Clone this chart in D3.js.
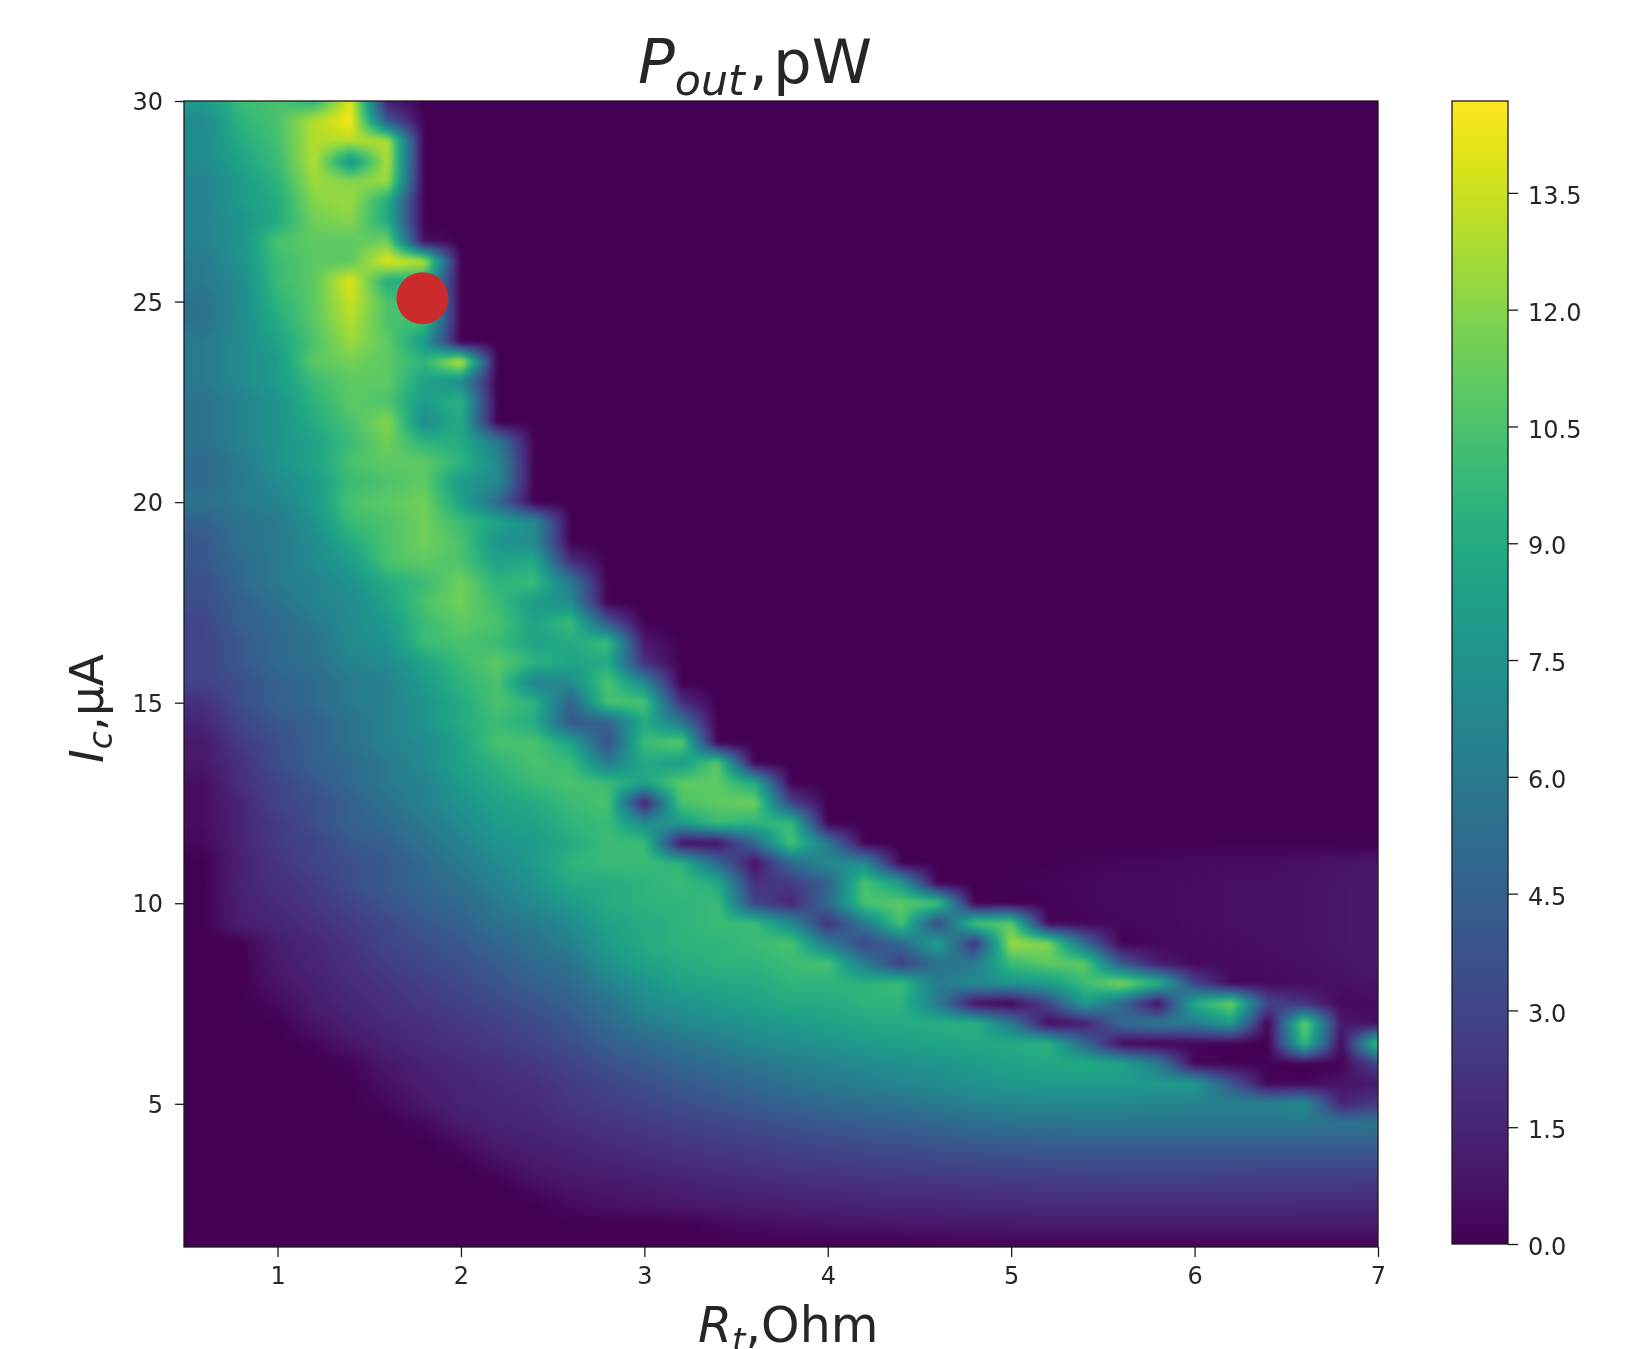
<!DOCTYPE html>
<html>
<head>
<meta charset="utf-8">
<script src="https://cdn.jsdelivr.net/npm/d3@7"></script>
<style>
  html, body { margin: 0; background: #fff; }
  svg { display: block; font-family: "DejaVu Sans", sans-serif; filter: blur(0.6px); }
</style>
</head>
<body>
<div id="chart"></div>
<script>
const rt = [0.6,0.8,1,1.2,1.4,1.6,1.8,2,2.2,2.4,2.6,2.8,3,3.2,3.4,3.6,3.8,4,4.2,4.4,4.6,4.8,5,5.2,5.4,5.6,5.8,6,6.2,6.4,6.6,6.8,7];
const ic = [30,29.5,29,28.5,28,27.5,27,26.5,26,25.5,25,24.5,24,23.5,23,22.5,22,21.5,21,20.5,20,19.5,19,18.5,18,17.5,17,16.5,16,15.5,15,14.5,14,13.5,13,12.5,12,11.5,11,10.5,10,9.5,9,8.5,8,7.5,7,6.5,6,5.5,5,4.5,4,3.5,3,2.5,2,1.5];
// one row per ic value, columns follow rt; columns past the end of a row are 0
const power = [
  [8,10,10.5,9.5,14,1],
  [7,9.5,10.5,13,14.5,4],
  [7,9,10.3,13,13,13],
  [7,8.5,10,13,7.5,13],
  [6.5,8,9.5,12.5,12,12.5],
  [6.5,8,9,12,12.5,9],
  [6.5,7.5,9,11.5,12,9],
  [6.5,7.5,10.5,11,11,11.5,0.5],
  [6,7.5,10,11,11,14,13],
  [6,7,10,11,14,9,9],
  [5.5,7,9.5,11,13.5,10.5,10],
  [5.5,7,9,11,13,10.5,10],
  [6,7,8.5,10.5,12.5,11,8],
  [6,7,8,11,11.5,11,9.5,13.5],
  [6,7,8,10,11,11,8.5,7],
  [5.5,6.5,7.5,9.5,11,10.5,8,9.5],
  [5.5,6.5,7.5,9,10.5,12,7,9],
  [5.5,6.5,7.5,8.5,10,11.5,9.5,9,6],
  [5,6,7.5,8.5,10.5,11,11,9.5,7],
  [5,6,7,8,10,10.5,11,8,7],
  [5.5,6,6.5,8,10.5,11,11.5,8.5,5],
  [4.5,5.5,6,7.5,10,10.5,11.5,10,8.5,7],
  [4,5.5,6,7,9,10.5,11.5,10.5,7.5,7],
  [4,5,6,7,8,10.5,11,10.5,8.5,9,2],
  [3.5,5,6,6.5,7.5,9,10,11.5,9.5,10,6],
  [3.5,4.5,5.5,6.5,7,8.5,10.5,11.5,10,8,7],
  [3,4.5,5,6,7,8,10,11,10.5,8.5,10,4],
  [3,4,5,5.5,7,7.5,10,10.5,10,8.5,9,10,1],
  [3,4,5,5.5,6.5,7,8.5,10,11,9.5,8.5,9,2],
  [3,3.5,4.5,5,6,6.5,8,9.5,10.5,6.5,7,10.5,7],
  [2,3.5,4.5,5,6,6.5,7.5,9,10.5,9.5,4.5,10.5,10.5,2],
  [1.5,3,4,4.5,5.5,6.5,7.5,9,10,9,4,4.5,9,6],
  [1,2.5,3.5,4.5,5.5,6.5,7,8.5,10.5,10.5,8.5,3.5,10,11],
  [1,2,3.5,4.5,5,6,7,8.5,9.5,10.5,10,6,9,8,11],
  [0.5,2,3,4,5,6,6.5,8,9,10,10.5,10,8.5,11,11,9],
  [0.5,1.5,3,3.5,4.5,5.5,6.5,7.5,8.5,9,10,10.5,1,10.5,11,11.5,3],
  [0.5,1.5,2.5,3.5,4.5,5,6,7,8,8.5,9.5,10,7,8,10,9.5,10],
  [0.3,1.5,2.5,3,4,4.5,5.5,6.5,7.5,8,9,10,10,0.5,0.5,5,10.5,6],
  [0,1.3,2.2,3,3.5,4,5,6,7,8,9.5,10,10,9.5,5,0.5,5,7,7,0,0,0,0,0,0.2,0.3,0.3,0.4,0.5,0.5,0.6,0.8,0.9],
  [0,1.5,2,2.5,3.5,4.2,4.8,5.5,6.5,7.5,9,9,9.5,10,9,2,2.5,4.5,10.5,8,0,0,0.1,0.2,0.3,0.4,0.4,0.5,0.6,0.6,0.7,0.9,1],
  [0,1.3,1.8,2.3,3,3.8,4.5,5,6,7,8,9,9.5,9.5,10,3,1.5,5,10.5,11,10.5,0,0,0.1,0.3,0.4,0.4,0.5,0.6,0.6,0.7,0.9,1],
  [0,1.3,1.5,2,2.5,3.2,4,4.5,5.5,6,7,8.5,9,9.5,10,10,7,2,6,10.5,3,10.5,11,0.2,0.2,0.3,0.4,0.5,0.6,0.6,0.7,0.9,1],
  [0,0,1.2,1.6,2.2,3,3.5,4,4.8,5.5,6.5,8,9,9.5,9.5,10,10.5,6,3,5,8.5,2,12.5,12,5,0.1,0.3,0.4,0.5,0.6,0.7,0.9,1],
  [0,0,1,1.5,2,2.6,3.2,3.6,4.2,5,5.5,7.5,8.5,9,9.5,9.5,10,10.5,6,2.5,5.5,6,10,11,11,4,1,0.3,0.4,0.5,0.6,0.8,1],
  [0,0,0.8,1.3,1.8,2.2,2.7,3.2,3.8,4.5,5,6.5,7.5,8.5,8.8,9,9.5,9.5,9.5,10,6,7,7.5,8,10,12,9.5,3,0.3,0.4,0.5,0.6,0.8],
  [0,0,0.4,1.1,1.6,2,2.4,2.8,3.3,3.8,4.5,5.5,7,7.5,8,8.5,9,9,9.5,9.5,6,0.5,0,3,8,5,0.3,9,11.5,3,2,0.3,0.5],
  [0,0,0,0.8,1.3,1.7,2,2.4,2.8,3.3,3.9,5,6,6.8,7.2,7.6,8,8.4,8.8,9,9.2,9.5,6,0.3,1,5,6,6,8,0,11.5,1,0.5],
  [0,0,0,0.2,0.9,1.4,1.8,2.1,2.5,3,3.5,4.3,5,5.6,6.2,6.8,7.2,7.6,8,8.3,8.6,8.8,9,9.5,5,0.3,0,0.2,0,0,10,0.3,10.5],
  [0,0,0,0,0.2,0.9,1.4,1.7,2,2.4,3,3.6,4.2,4.8,5.3,5.8,6.2,6.6,7,7.3,7.6,8,8.5,8.8,9,8.5,6,0.2,0.1,0.1,0,0.1,3],
  [0,0,0,0,0,0.7,1.2,1.5,1.8,2,2.5,3,3.5,4,4.5,5,5.5,6,6.3,6.7,7,7.5,7.8,8,8,8,8,8,4,0.2,0.2,0.8,1],
  [0,0,0,0,0,0.3,1,1.4,1.6,1.8,2.3,2.7,3,3.5,3.8,4.2,4.6,5,5.3,5.6,6,6.5,6.7,6.8,6.8,6.8,6.6,6.5,6.5,6.5,7,1.5,2.5],
  [0,0,0,0,0,0,0.3,1.1,1.4,1.6,1.9,2.2,2.5,2.8,3.1,3.4,3.7,4,4.3,4.5,4.8,5.2,5.5,5.6,5.7,5.7,5.7,5.7,5.7,5.7,5.7,5.7,5.7],
  [0,0,0,0,0,0,0,0.4,1.1,1.3,1.5,1.8,2,2.3,2.5,2.7,3,3.2,3.4,3.6,3.8,4,4.2,4.3,4.4,4.4,4.4,4.4,4.4,4.4,4.4,4.4,4.3],
  [0,0,0,0,0,0,0,0,0.5,1,1.2,1.4,1.6,1.8,2,2.2,2.4,2.5,2.7,2.8,3,3.1,3.2,3.3,3.4,3.4,3.4,3.4,3.4,3.3,3.3,3.3,3.3],
  [0,0,0,0,0,0,0,0,0,0.5,0.9,1,1.1,1.3,1.5,1.6,1.8,1.9,2,2.1,2.2,2.3,2.4,2.5,2.5,2.6,2.6,2.6,2.5,2.5,2.5,2.5,2.4],
  [0,0,0,0,0,0,0,0,0,0,0.4,0.7,0.8,1,1.1,1.2,1.3,1.4,1.5,1.6,1.6,1.7,1.7,1.8,1.8,1.8,1.8,1.8,1.8,1.8,1.7,1.7,1.7],
  [0,0,0,0,0,0,0,0,0,0,0,0,0,0,0.3,0.5,0.6,0.7,0.8,0.9,0.9,1,1,1.1,1.1,1.1,1.1,1.1,1.1,1.1,1.1,1.1,1.1],
  [0,0,0,0,0,0,0,0,0,0,0,0,0,0,0,0,0,0,0,0,0.1,0.1,0.2,0.2,0.2,0.2,0.2,0.2,0.2,0.2,0.2,0.2,0.2]
];
const optimumRt = [1.79];
const optimumIc = [25.08];
const xTicks = [1,2,3,4,5,6,7];
const yTicks = [5,10,15,20,25,30];
const cbTicks = [0,1.5,3,4.5,6,7.5,9,10.5,12,13.5];

const plot = { left: 184, right: 1378, top: 101, bottom: 1247 };
const bar = { left: 1452, right: 1508, top: 101, bottom: 1244 };
const textColor = "#262626";

const svg = d3.select("#chart").append("svg").attr("width", 1648).attr("height", 1349);

const x = d3.scaleLinear().domain([0.49, 7]).range([plot.left, plot.right]);
const y = d3.scaleLinear().domain([1.43, 30]).range([plot.bottom, plot.top]);
const cb = d3.scaleLinear().domain([0, 14.68]).range([bar.bottom, bar.top]);
const color = v => d3.interpolateViridis(v / 14.68);

// bilinear lookup into the grid, like imshow with interpolation
const colIndex = d3.scaleLinear().domain(rt).range(rt.map((d, i) => i)).clamp(true);
const rowIndex = d3.scaleLinear().domain(ic).range(ic.map((d, i) => i)).clamp(true);
const cell = (j, i) => power[j][i] || 0;

function sample(r, c) {
  const fx = colIndex(r), fy = rowIndex(c);
  const i0 = Math.floor(fx), j0 = Math.floor(fy);
  const i1 = Math.min(i0 + 1, rt.length - 1), j1 = Math.min(j0 + 1, ic.length - 1);
  const top = cell(j0, i0) + (cell(j0, i1) - cell(j0, i0)) * (fx - i0);
  const low = cell(j1, i0) + (cell(j1, i1) - cell(j1, i0)) * (fx - i0);
  return top + (low - top) * (fy - j0);
}

const w = plot.right - plot.left, h = plot.bottom - plot.top;
const canvas = document.createElement("canvas");
canvas.width = w;
canvas.height = h;
const ctx = canvas.getContext("2d");
const img = ctx.createImageData(w, h);
for (let py = 0; py < h; py++) {
  for (let px = 0; px < w; px++) {
    const c = d3.rgb(color(sample(x.invert(plot.left + px + 0.5), y.invert(plot.top + py + 0.5))));
    const k = (py * w + px) * 4;
    img.data[k] = c.r;
    img.data[k + 1] = c.g;
    img.data[k + 2] = c.b;
    img.data[k + 3] = 255;
  }
}
ctx.putImageData(img, 0, 0);

// soften the grid a bit, the sharp copy underneath keeps the edges opaque
const soft = document.createElement("canvas");
soft.width = w;
soft.height = h;
const softCtx = soft.getContext("2d");
softCtx.drawImage(canvas, 0, 0);
softCtx.filter = "blur(2px)";
softCtx.drawImage(canvas, 0, 0);

svg.append("image")
  .attr("x", plot.left).attr("y", plot.top)
  .attr("width", w).attr("height", h)
  .attr("href", soft.toDataURL());

svg.selectAll("circle.optimum")
  .data(optimumRt)
  .enter().append("circle")
  .attr("class", "optimum")
  .attr("cx", d => x(d))
  .attr("cy", (d, i) => y(optimumIc[i]))
  .attr("r", 26)
  .attr("fill", "#cc2b2b");

svg.append("rect")
  .attr("x", plot.left).attr("y", plot.top)
  .attr("width", w).attr("height", h)
  .attr("fill", "none").attr("stroke", "#1a1a1a").attr("stroke-width", 1.3);

function styleAxis(g) {
  g.select(".domain").remove();
  g.selectAll("line").attr("stroke", "#1a1a1a").attr("stroke-width", 1.3);
  g.selectAll("text").attr("fill", textColor).attr("font-size", 24).attr("font-family", "DejaVu Sans");
}

svg.append("g").attr("transform", `translate(0,${plot.bottom})`)
  .call(d3.axisBottom(x).tickValues(xTicks).tickFormat(d3.format("d")).tickSize(10).tickPadding(10))
  .call(styleAxis);
svg.append("g").attr("transform", `translate(${plot.left},0)`)
  .call(d3.axisLeft(y).tickValues(yTicks).tickFormat(d3.format("d")).tickSize(9).tickPadding(12))
  .call(styleAxis)
  .selectAll("text").attr("transform", "translate(0,1)");

// colorbar
const defs = svg.append("defs");
const grad = defs.append("linearGradient").attr("id", "viridis").attr("x1", 0).attr("y1", 1).attr("x2", 0).attr("y2", 0);
grad.selectAll("stop").data(d3.range(0, 1.001, 0.02)).enter().append("stop")
  .attr("offset", d => d).attr("stop-color", d => d3.interpolateViridis(d));

svg.append("rect")
  .attr("x", bar.left).attr("y", bar.top)
  .attr("width", bar.right - bar.left).attr("height", bar.bottom - bar.top)
  .attr("fill", "url(#viridis)").attr("stroke", "#1a1a1a").attr("stroke-width", 1.3);

svg.append("g").attr("transform", `translate(${bar.right},0)`)
  .call(d3.axisRight(cb).tickValues(cbTicks).tickFormat(d3.format(".1f")).tickSize(10).tickPadding(10))
  .call(styleAxis)
  .selectAll("text").attr("transform", "translate(0,3)");

// mathtext style labels, pieces are [text, italic, subscript, gap before]
function mathLabel(g, parts, size) {
  const t = g.append("text").attr("fill", textColor).attr("font-size", size);
  let lastSub = false;
  parts.forEach(([s, italic, sub, gap]) => {
    const dy = sub ? size * 0.2 : (lastSub ? -size * 0.2 : 0);
    t.append("tspan")
      .attr("dx", gap || 0)
      .attr("dy", dy)
      .attr("font-style", italic ? "italic" : "normal")
      .attr("font-size", sub ? size * 0.7 : size)
      .text(s);
    lastSub = sub;
  });
  return t;
}

mathLabel(svg.append("g").attr("transform", "translate(638,83)"),
  [["P", true, false], ["out", true, true], [",", false, false, 4], ["pW", false, false, 5]], 61);
mathLabel(svg.append("g").attr("transform", "translate(698,1342)"),
  [["R", true, false], ["t", true, true], [",", false, false], ["Ohm", false, false]], 49);
mathLabel(svg.append("g").attr("transform", "translate(103,763) rotate(-90)"),
  [["I", true, false], ["c", true, true], [",", false, false], ["µA", false, false]], 47);
</script>
</body>
</html>
